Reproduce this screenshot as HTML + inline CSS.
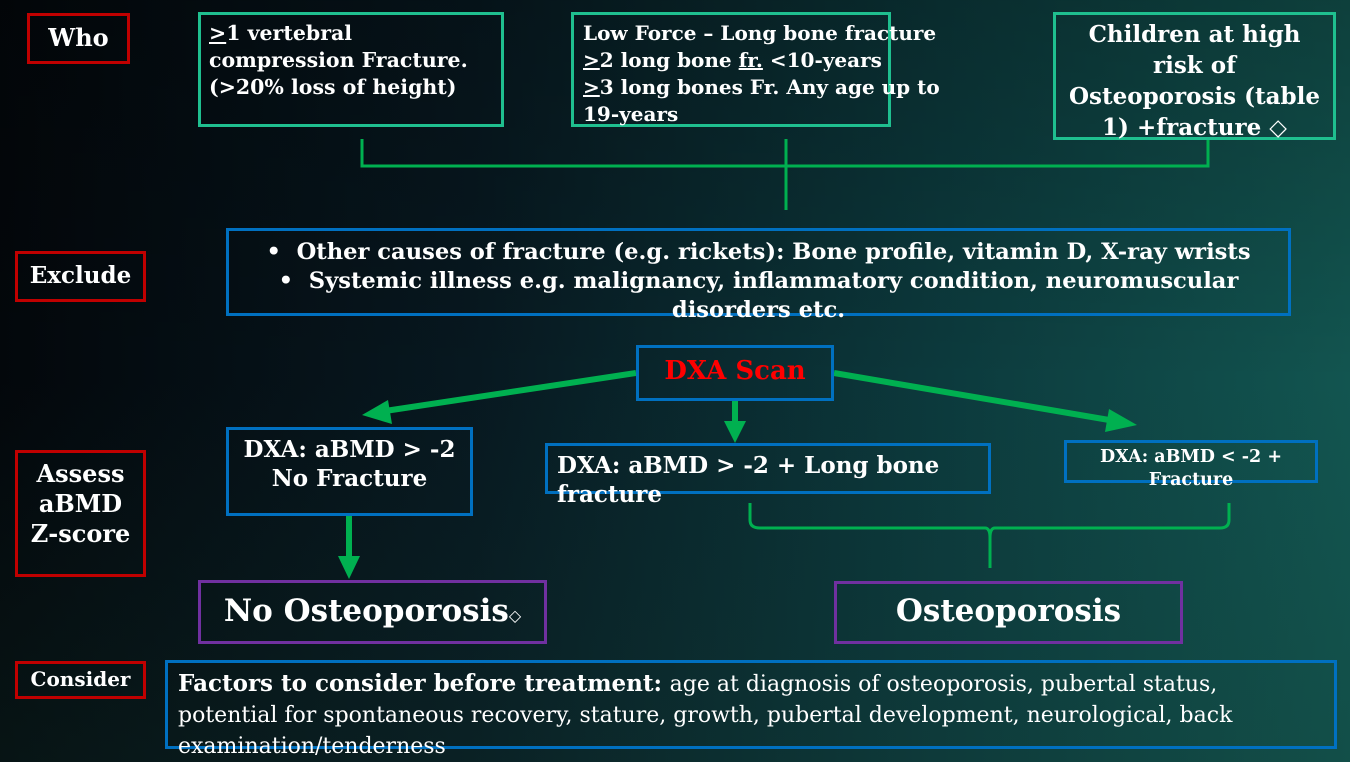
<!DOCTYPE html>
<html><head><meta charset="utf-8"><style>
body{margin:0;width:1350px;height:762px;overflow:hidden;position:relative;
background:linear-gradient(90deg,#03070b 0%,#071820 35%,#0c3a3d 70%,#125550 100%);
font-family:"DejaVu Serif","Liberation Serif",serif;font-weight:bold;color:#fff}
.ov{position:absolute;inset:0;background:linear-gradient(180deg,rgba(0,0,0,.25) 0%,rgba(0,0,0,0) 50%,rgba(20,60,50,.25) 100%)}
.b{position:absolute;box-sizing:border-box;border:3px solid;white-space:nowrap}
.r{border-color:#c00000}.t{border-color:#1fbf8f}.bl{border-color:#0070c0}.p{border-color:#7030a0}
.c{text-align:center}
u{text-decoration:underline}
</style></head><body><div class="ov"></div>
<svg style="position:absolute;left:0;top:0" width="1350" height="762">
<g stroke="#00b050" stroke-width="3" fill="none">
<path d="M362 139V166H1208V139M786 139V210"/>
<path d="M750 503V520Q750 528 760 528H985Q990 528 990 538V568M990 538Q990 528 995 528H1220Q1229 528 1229 520V503"/>
</g>
<g stroke="#00b050" stroke-width="6" fill="#00b050">
<line x1="636" y1="373" x2="385" y2="411"/>
<line x1="834" y1="373" x2="1115" y2="421"/>
<line x1="735" y1="400" x2="735" y2="425"/>
<line x1="349" y1="515" x2="349" y2="560"/>
</g>
<g fill="#00b050" stroke="none">
<polygon points="362,415 388,400 392,424"/>
<polygon points="1137,425 1109,409 1105,432"/>
<polygon points="735,443 724,421 746,421"/>
<polygon points="349,579 338,556 360,556"/>
</g>
</svg>
<div class="b r c" style="left:27px;top:13px;width:103px;height:51px;font-size:24px;line-height:44px">Who</div>
<div class="b t" style="left:198px;top:12px;width:306px;height:115px;font-size:20.5px;line-height:27px;padding:5px 8px"><u>&gt;</u>1 vertebral<br>compression Fracture.<br>(&gt;20% loss of height)</div>
<div class="b t" style="left:571px;top:12px;width:320px;height:115px;font-size:20px;line-height:27px;padding:5px 9px">Low Force – Long bone fracture<br><u>&gt;</u>2 long bone <u>fr.</u> &lt;10-years<br><u>&gt;</u>3 long bones Fr. Any age up to<br>19-years</div>
<div class="b t c" style="left:1053px;top:12px;width:283px;height:128px;font-size:23px;line-height:31px;padding-top:4px">Children at high<br>risk of<br>Osteoporosis (table<br>1) +fracture ◇</div>
<div class="b r c" style="left:15px;top:251px;width:131px;height:51px;font-size:23px;line-height:44px">Exclude</div>
<div class="b bl c" style="left:226px;top:228px;width:1065px;height:88px;font-size:22.6px;line-height:29px;padding-top:7px">• &nbsp;Other causes of fracture (e.g. rickets): Bone profile, vitamin D, X-ray wrists<br>• &nbsp;Systemic illness e.g. malignancy, inflammatory condition, neuromuscular<br>disorders etc.</div>
<div class="b bl c" style="left:636px;top:345px;width:198px;height:56px;font-size:26px;line-height:46px;color:#ff0000">DXA Scan</div>
<div class="b r c" style="left:15px;top:450px;width:131px;height:127px;font-size:24px;line-height:30px;padding-top:6px">Assess<br>aBMD<br>Z-score</div>
<div class="b bl c" style="left:226px;top:427px;width:247px;height:89px;font-size:23px;line-height:29px;padding-top:5px">DXA: aBMD &gt; -2<br>No Fracture</div>
<div class="b bl" style="left:545px;top:443px;width:446px;height:51px;font-size:23px;line-height:29px;padding:5px 0 0 9px">DXA: aBMD &gt; -2 + Long bone<br>fracture</div>
<div class="b bl c" style="left:1064px;top:440px;width:254px;height:43px;font-size:17.5px;line-height:23px;padding-top:3px">DXA: aBMD &lt; -2 +<br>Fracture</div>
<div class="b p c" style="left:198px;top:580px;width:349px;height:64px;font-size:31px;line-height:56px">No Osteoporosis<span style="font-size:16px">◇</span></div>
<div class="b p c" style="left:834px;top:581px;width:349px;height:63px;font-size:31px;line-height:55px">Osteoporosis</div>
<div class="b r c" style="left:15px;top:661px;width:131px;height:38px;font-size:20px;line-height:31px">Consider</div>
<div class="b bl" style="left:165px;top:660px;width:1172px;height:89px;font-size:22px;line-height:30px;padding:6px 0 0 10px"><span style="font-size:23px">Factors to consider before treatment:</span> <span style="font-weight:normal">age at diagnosis of osteoporosis, pubertal status,<br>potential for spontaneous recovery, stature, growth, pubertal development, neurological, back<br>examination/tenderness</span></div>
</body></html>
